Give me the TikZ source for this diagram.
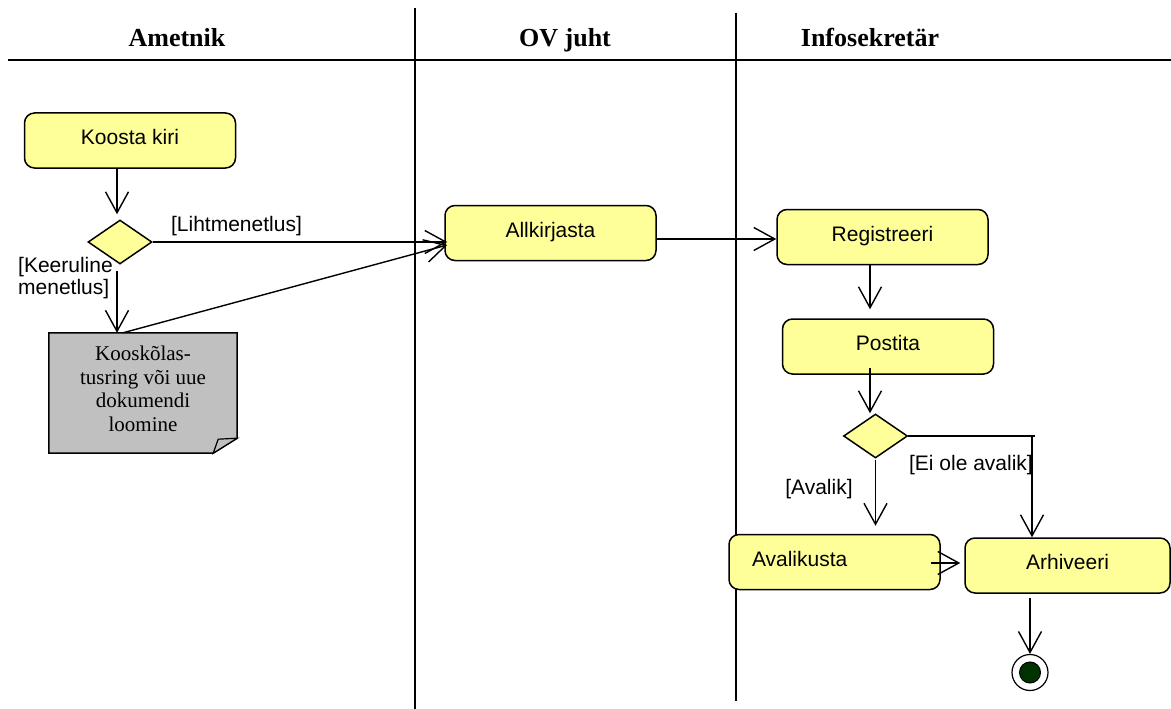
\documentclass[tikz,border=0pt]{standalone}
\usepackage{fontspec}
\setmainfont{Liberation Serif}
\newfontfamily\uisans{Liberation Sans}
\usetikzlibrary{arrows.meta,shapes.geometric}
\definecolor{actfill}{HTML}{FFFF99}
\definecolor{notefill}{HTML}{C0C0C0}
\definecolor{finalfill}{HTML}{003300}
\begin{document}
\begin{tikzpicture}[x=1pt,y=-1pt,
  lane/.style={line width=1.6pt},
  lanetitle/.style={font=\fontsize{26}{30}\selectfont\bfseries, inner sep=0,
    text height=18pt, text depth=6pt},
  action/.style={draw, line width=1.5pt, rounded corners=10pt, fill=actfill,
    minimum width=211pt, minimum height=55pt, inner sep=0,
    text height=15pt, text depth=7pt,
    font=\uisans\fontsize{21}{24}\selectfont},
  choice/.style={diamond, draw, line width=1.5pt, fill=actfill,
    minimum width=64pt, minimum height=44pt, inner sep=0},
  notebox/.style={minimum width=188pt, minimum height=120pt, inner sep=0},
  notetext/.style={align=center, inner sep=0, font=\fontsize{21}{23.5}\selectfont},
  guard/.style={font=\uisans\fontsize{21}{22}\selectfont, inner sep=0,
    text height=15pt, text depth=4.5pt},
  finalnode/.style={circle, draw, line width=1.2pt, fill=white, minimum size=36pt,
    inner sep=0, path picture={\draw[line width=1pt, fill=finalfill]
      (path picture bounding box.center) circle (10.5pt);}},
  flow/.style={line width=1.4pt, -{Straight Barb[length=21pt,width=23pt]}},
  plain/.style={line width=1.4pt},
]
\useasboundingbox (0,0) rectangle (1171,709);

% swimlane frame
\draw[lane] (8,60) -- (1171,60);
\draw[lane] (415,8) -- (415,709);
\draw[lane] (736,13) -- (736,701);
\node[lanetitle] (t1) at (177,40.7) {Ametnik};
\node[lanetitle] (t2) at (565,40.7) {OV juht};
\node[lanetitle] (t3) at (870,40.7) {Infosekretär};

% columns used by vertical flows
\coordinate (colA) at (117,0);
\coordinate (colB) at (870,0);
\coordinate (colC) at (1032,0);

% activities
\node[action] (koosta) at (130,140.5) {Koosta kiri};
\node[choice] (d1) at (120,242) {};
\node[action] (allk) at (550.5,233) {Allkirjasta};
\node[action] (reg) at (882.5,237) {Registreeri};
\node[action] (post) at (888,346.5) {Postita};
\node[choice] (d2) at (875.5,436) {};
\node[action, text width=165pt, inner xsep=23pt, align=left] (aval) at (834.5,562) {Avalikusta};
\node[action, minimum width=205pt] (arh) at (1067.5,565.5) {Arhiveeri};
\node[finalnode] (fin) at (1030,672.5) {};

% note with folded corner
\node[notebox] (note) at (143,393) {};
\draw[line width=1.5pt, fill=notefill]
  (note.north west) -- (note.north east) -- ([yshift=15pt]note.south east)
  -- ([xshift=-24pt]note.south east) -- (note.south west) -- cycle;
\draw[line width=1.2pt, fill=notefill]
  ([yshift=15pt]note.south east) -- ([xshift=-19pt,yshift=14pt]note.south east)
  -- ([xshift=-24pt]note.south east) -- cycle;
\node[notetext] (notetext) at (143,389) {Kooskõlas-\\tusring või uue\\dokumendi\\loomine};

% flows
\draw[flow] (koosta.south -| colA) -- ([yshift=5pt]d1.north -| colA);
\draw[flow] (d1.east) -- ([xshift=3pt]d1.east -| allk.west);
\node[guard] (g1) at (236.5,226) {[Lihtmenetlus]};
\draw[flow] ([yshift=-6pt]d1.south -| colA) -- (note.north -| colA);
\node[guard, align=left, anchor=west] (g2) at (18,289) {[Keeruline\\menetlus]};
\draw[flow] ([xshift=-20pt]note.north) -- ([xshift=3pt,yshift=-12pt]allk.west);
\draw[flow] ([yshift=-6pt]allk.east) -- ([yshift=-6pt]allk.east -| reg.west);
\draw[flow] (reg.south -| colB) -- ([yshift=9pt]post.north -| colB);
\draw[flow] ([yshift=7pt]post.south -| colB) -- (d2.north -| colB);
\draw[flow] ([yshift=-1pt]d2.south) -- ([yshift=8pt]aval.north -| d2.south);
\node[guard] (g3) at (819,489) {[Avalik]};
\draw[plain] (d2.east) -- ([xshift=3pt]d2.east -| colC);
\draw[flow] (d2.east -| colC) -- (arh.north -| colC);
\node[guard] (g4) at (971,465) {[Ei ole avalik]};
\draw[flow] ([xshift=-10pt,yshift=-1pt]aval.east) -- ([xshift=-4pt,yshift=-1pt]aval.east -| arh.west);
\draw[flow] ([yshift=-4pt]arh.south -| fin) -- (fin.north);
\end{tikzpicture}
\end{document}
